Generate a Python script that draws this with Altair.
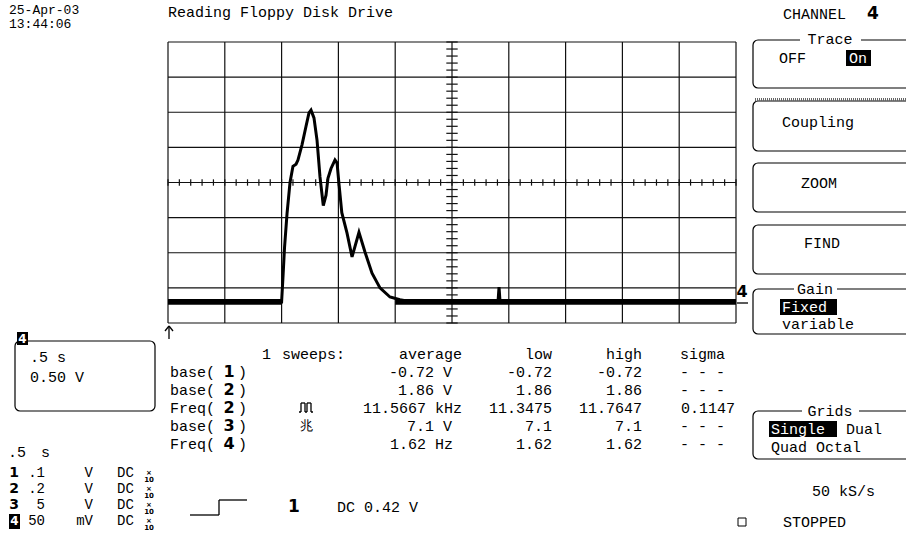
import altair as alt
import pandas as pd

# ---------------- values read from the screen ----------------
# channel 4 trace: time (s) and voltage (V), 0.5 s/div, 0.5 V/div
trace_t = [0.00, 1.00, 1.012, 1.026, 1.048, 1.074, 1.100, 1.127, 1.144, 1.180,
           1.215, 1.241, 1.259, 1.285, 1.312, 1.338, 1.367, 1.391, 1.408, 1.435,
           1.470, 1.488, 1.505, 1.530, 1.576, 1.620, 1.681, 1.734, 1.796, 1.866,
           1.954, 2.042, 2.148, 2.905, 2.914, 2.923, 5.00]
trace_v = [0.00, 0.00, 0.35, 0.78, 1.26, 1.70, 1.93, 1.96, 2.02, 2.24,
           2.50, 2.69, 2.73, 2.62, 2.30, 1.78, 1.37, 1.52, 1.76, 1.90,
           2.02, 1.98, 1.68, 1.27, 0.98, 0.64, 0.99, 0.71, 0.41, 0.20,
           0.07, 0.03, 0.00, 0.00, 0.21, 0.00, 0.00]
# noise band on the flat parts of the trace
noise_start = [0.0, 2.00]
noise_end = [1.0, 5.0]
noise_low = [-0.04, -0.04]
noise_high = [0.04, 0.04]

time_grid = [0.0, 0.5, 1.0, 1.5, 2.0, 2.5, 3.0, 3.5, 4.0, 4.5, 5.0]
volt_grid = [-0.3, 0.2, 0.7, 1.2, 1.7, 2.2, 2.7, 3.2, 3.7]
time_minor = [round(0.1 * i, 2) for i in range(51)]
volt_minor = [round(-0.3 + 0.1 * i, 2) for i in range(41)]
time_center = 2.5
volt_center = 1.7

meas_headers = ["average", "low", "high", "sigma"]
meas_names = ["base(", "base(", "Freq(", "base(", "Freq("]
meas_channels = ["1", "2", "2", "3", "4"]
meas_average = ["-0.72 V", "1.86 V", "11.5667 kHz", "7.1 V", "1.62 Hz"]
meas_low = ["-0.72", "1.86", "11.3475", "7.1", "1.62"]
meas_high = ["-0.72", "1.86", "11.7647", "7.1", "1.62"]
meas_sigma = ["- - -", "- - -", "0.1147", "- - -", "- - -"]

chan_ids = ["1", "2", "3", "4"]
chan_scale = [".1", ".2", "5", "50"]
chan_units = ["V", "V", "V", "mV"]
chan_coupling = ["DC", "DC", "DC", "DC"]
chan_probe = ["×\n10", "×\n10", "×\n10", "×\n10"]

# ---------------- layout helpers ----------------
MONO = "Liberation Mono"
BOLD = "DejaVu Sans"
FS = 15
XS = alt.Scale(domain=[0, 5], range=[168, 736], nice=False, zero=False)
YS = alt.Scale(domain=[-0.3, 3.7], range=[323, 42], nice=False, zero=False)
PXX = alt.Scale(domain=[0, 906], range=[0, 906], nice=False, zero=False)
PXY = alt.Scale(domain=[0, 535], range=[0, 535], nice=False, zero=False)


def texts(rows, align="left", weight="normal", font=MONO, **mark):
    df = pd.DataFrame(rows, columns=["text", "x", "y", "size", "color"])
    return alt.Chart(df).mark_text(align=align, baseline="middle", font=font,
                                   fontWeight=weight, **mark).encode(
        x=alt.X("x:Q", scale=PXX, axis=None),
        y=alt.Y("y:Q", scale=PXY, axis=None),
        text="text:N",
        size=alt.Size("size:Q", scale=None, legend=None),
        color=alt.Color("color:N", scale=None, legend=None),
    )


def rects(rows, **mark):
    df = pd.DataFrame(rows, columns=["x", "x2", "y", "y2"])
    return alt.Chart(df).mark_rect(**mark).encode(
        x=alt.X("x:Q", scale=PXX, axis=None), x2="x2:Q",
        y=alt.Y("y:Q", scale=PXY, axis=None), y2="y2:Q",
    )


def segs(rows, **mark):
    df = pd.DataFrame(rows, columns=["x", "y", "x2", "y2"])
    return alt.Chart(df).mark_rule(**mark).encode(
        x=alt.X("x:Q", scale=PXX, axis=None), x2="x2:Q",
        y=alt.Y("y:Q", scale=PXY, axis=None), y2="y2:Q",
    )


layers = []

# ---------------- graticule ----------------
vgrid = pd.DataFrame({"t": time_grid, "v0": -0.3, "v1": 3.7})
hgrid = pd.DataFrame({"v": volt_grid, "t0": 0.0, "t1": 5.0})
layers.append(alt.Chart(vgrid).mark_rule(color="#111", strokeWidth=1.2).encode(
    x=alt.X("t:Q", scale=XS, axis=None),
    y=alt.Y("v0:Q", scale=YS, axis=None), y2="v1:Q"))
layers.append(alt.Chart(hgrid).mark_rule(color="#111", strokeWidth=1.2).encode(
    y=alt.Y("v:Q", scale=YS, axis=None),
    x=alt.X("t0:Q", scale=XS, axis=None), x2="t1:Q"))
tmin = pd.DataFrame({"t": time_minor, "v0": volt_center - 0.045, "v1": volt_center + 0.045})
vmin = pd.DataFrame({"v": volt_minor, "t0": time_center - 0.05, "t1": time_center + 0.05})
layers.append(alt.Chart(tmin).mark_rule(color="#111", strokeWidth=1.2).encode(
    x=alt.X("t:Q", scale=XS, axis=None),
    y=alt.Y("v0:Q", scale=YS, axis=None), y2="v1:Q"))
layers.append(alt.Chart(vmin).mark_rule(color="#111", strokeWidth=1.2).encode(
    y=alt.Y("v:Q", scale=YS, axis=None),
    x=alt.X("t0:Q", scale=XS, axis=None), x2="t1:Q"))

# ---------------- trace ----------------
noise = pd.DataFrame({"t0": noise_start, "t1": noise_end, "lo": noise_low, "hi": noise_high})
layers.append(alt.Chart(noise).mark_rect(color="black").encode(
    x=alt.X("t0:Q", scale=XS, axis=None), x2="t1:Q",
    y=alt.Y("lo:Q", scale=YS, axis=None), y2="hi:Q"))
trace = pd.DataFrame({"t": trace_t, "v": trace_v})
layers.append(alt.Chart(trace).mark_line(color="black", strokeWidth=3).encode(
    x=alt.X("t:Q", scale=XS, axis=None),
    y=alt.Y("v:Q", scale=YS, axis=None)))

# ---------------- boxes ----------------
layers.append(rects([(753, 960, 40, 88), (753, 960, 101, 151), (753, 960, 163, 212),
                     (753, 960, 225, 274), (753, 960, 289, 334), (753, 960, 411, 459),
                     (15, 155, 341, 411)],
                    fillOpacity=0, stroke="black", strokeWidth=1.2, cornerRadius=5))
layers.append(segs([(755, 99.5, 906, 99.5)], color="#666", strokeWidth=3, strokeDash=[1, 1]))
layers.append(rects([(800, 861, 34, 46), (794, 837, 283, 295), (802, 859, 405, 417)],
                    color="white"))
layers.append(rects([(846, 871, 50, 66), (780, 837, 299, 315), (769, 837, 421, 437),
                     (17, 28, 332, 345), (9, 20, 514, 529)], color="black"))
layers.append(rects([(738, 746, 518, 526)], fillOpacity=0, stroke="black", strokeWidth=1))

# glyph strokes: trigger arrow, trigger slope, trace marker, pulse symbol
layers.append(segs([
    (169, 326, 169, 339), (165, 331, 169, 326), (173, 331, 169, 326),
    (190, 515, 219, 515), (219, 515, 219, 500), (219, 500, 247, 500),
    (737, 303, 748, 303),
    (299, 412, 301, 412), (301, 412, 301, 403), (301, 403, 305, 403), (305, 403, 305, 412),
    (305, 412, 307, 412), (307, 412, 307, 403), (307, 403, 311, 403), (311, 403, 311, 412),
    (311, 412, 313, 412),
], color="black", strokeWidth=1.3))

# ---------------- text ----------------
K = "black"
left_rows = [
    ("25-Apr-03", 9, 10, 13, K), ("13:44:06", 9, 24, 13, K),
    ("Reading Floppy Disk Drive", 168, 12, FS, K),
    ("CHANNEL", 783, 14, FS, K), ("OFF", 779, 58, FS, K),
    ("Coupling", 782, 122, FS, K), ("variable", 782, 324, FS, K),
    ("Dual", 846, 429, FS, K), ("Quad Octal", 771, 447, FS, K),
    ("50 kS/s", 812, 491, FS, K), ("STOPPED", 783, 522, FS, K),
    (".5 s", 30, 357, FS, K), ("0.50 V", 30, 377, FS, K),
    (".5", 8, 452, FS, K), ("s", 41, 452, FS, K),
    ("1", 262, 354, FS, K), ("sweeps:", 282, 354, FS, K),
    ("DC 0.42 V", 337, 507, FS, K),
    ("On", 849, 58, FS, "white"), ("Fixed", 782, 307, FS, "white"),
    ("Single", 771, 429, FS, "white"),
]
meas_y = [372, 390, 408, 426, 444]
avg_right = [452, 452, 462, 452, 453]
sig_right = [725, 725, 735, 725, 725]
chan_y = [473, 489, 505, 521]
for i, yy in enumerate(meas_y):
    left_rows.append((meas_names[i], 170, yy, FS, K))
    left_rows.append((")", 238, yy, FS, K))
for i, yy in enumerate(chan_y):
    left_rows.append((chan_coupling[i], 117, yy, 14, K))
layers.append(texts(left_rows))

center_rows = [("Trace", 830, 39, FS, K), ("ZOOM", 819, 183, FS, K),
               ("FIND", 822, 243, FS, K), ("Gain", 815, 289, FS, K),
               ("Grids", 830, 411, FS, K), ("兆", 306, 426, 13, K)]
layers.append(texts(center_rows, align="center"))

# stacked probe factor (×10) as one two-line text per channel
probe_rows = [(chan_probe[i], 149, yy, 7, K) for i, yy in enumerate(chan_y)]
layers.append(texts(probe_rows, align="center", weight="bold", font=BOLD,
                    lineBreak="\n", lineHeight=7))

right_rows = []
for hx, h in zip([462, 552, 642, 725], meas_headers):
    right_rows.append((h, hx, 354, FS, K))
for i, yy in enumerate(meas_y):
    right_rows.append((meas_average[i], avg_right[i], yy, FS, K))
    right_rows.append((meas_low[i], 552, yy, FS, K))
    right_rows.append((meas_high[i], 642, yy, FS, K))
    right_rows.append((meas_sigma[i], sig_right[i], yy, FS, K))
for i, yy in enumerate(chan_y):
    right_rows.append((chan_scale[i], 45, yy, 14, K))
    right_rows.append((chan_units[i], 93, yy, 14, K))
layers.append(texts(right_rows, align="right"))

bold_rows = [("4", 873, 14, 17, K), ("4", 742, 292, 16, K), ("1", 294, 507, 17, K),
             ("4", 22.5, 339, 12, "white")]
for i, yy in enumerate(meas_y):
    bold_rows.append((meas_channels[i], 229, yy, 16, K))
for i, yy in enumerate(chan_y):
    if i < 3:
        bold_rows.append((chan_ids[i], 14, yy, 14, K))
    else:
        bold_rows.append((chan_ids[i], 14.5, yy, 12, "white"))
layers.append(texts(bold_rows, align="center", weight="bold", font=BOLD))

chart = alt.layer(*layers).properties(
    width=906, height=535, padding=0,
    autosize=alt.AutoSizeParams(type="none"),
    background="white",
).resolve_scale(x="independent", y="independent").configure_view(stroke=None)

chart.save("out.html", embed_options={"renderer": "svg", "actions": False})
